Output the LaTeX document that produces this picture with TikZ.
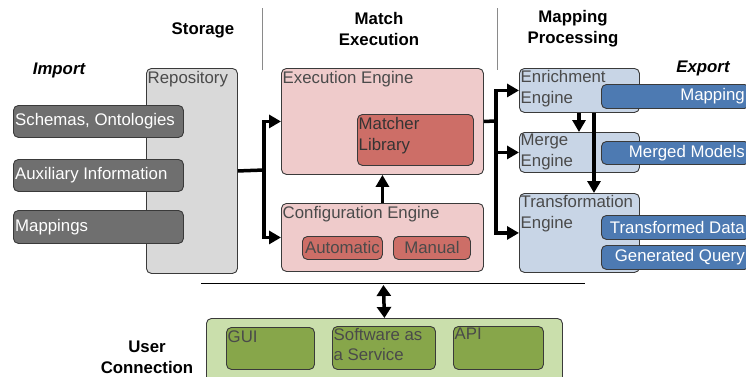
\documentclass[tikz,border=0pt]{standalone}
\usepackage{fontspec}
\setmainfont{Liberation Sans}
\usetikzlibrary{arrows.meta,calc}
\definecolor{bordercol}{HTML}{3A3A3A}
\definecolor{impfill}{HTML}{6F6F6F}
\definecolor{repofill}{HTML}{D9D9D9}
\definecolor{pinkfill}{HTML}{EFCBCB}
\definecolor{redfill}{HTML}{CD6E67}
\definecolor{bluelight}{HTML}{C8D5E6}
\definecolor{bluedark}{HTML}{4D7AB2}
\definecolor{greenlight}{HTML}{CADFAC}
\definecolor{greendark}{HTML}{87A64A}
\definecolor{txtgray}{HTML}{4A4A4A}
\definecolor{sepgray}{HTML}{8A8A8A}
\begin{document}
\begin{tikzpicture}[x=1pt,y=-1pt,
  font=\fontsize{16.8}{21}\selectfont,
  box/.style={draw=bordercol, line width=0.9pt, rounded corners=5pt, anchor=north west, inner sep=0pt},
  tl/.style={anchor=north west, inner xsep=1.5pt, inner ysep=3pt, text=txtgray, align=left},
  lw/.style={anchor=west, inner sep=2pt, text=white},
  rw/.style={anchor=east, inner sep=1pt, xshift=-4pt, text=white},
  ctr/.style={anchor=center, inner sep=0pt, text=txtgray},
  head/.style={font=\fontsize{16.8}{21}\selectfont\bfseries, align=center},
  conn/.style={line width=3.5pt},
  arr/.style={line width=3.5pt, -{Triangle[length=12pt,width=13pt]}},
  darr/.style={line width=3.5pt, {Triangle[length=11pt,width=14pt]}-{Triangle[length=11pt,width=14pt]}},
  sep/.style={draw=sepgray, line width=0.8pt}
]
\useasboundingbox (0,0) rectangle (746,376);

% headers
\node[head] (hstorage) at (203,30) {Storage};
\node[head] (hmatch) at (379,29) {Match\\Execution};
\node[head] (hmap) at (573,29) {Mapping\\Processing};
\node[head, font=\fontsize{16.8}{21}\selectfont\bfseries\itshape] (himport) at (59,70) {Import};
\node[head, font=\fontsize{16.8}{21}\selectfont\bfseries\itshape] (hexport) at (703,68) {Export};
\node[head] (huser) at (147,357) {User\\Connection};

% separators
\coordinate (s1a) at (262,8); \coordinate (s1b) at (262,70);
\coordinate (s2a) at (497,8); \coordinate (s2b) at (497,70);
\draw[sep] (s1a) -- (s1b);
\draw[sep] (s2a) -- (s2b);
\coordinate (hla) at (201,283); \coordinate (hlb) at (585,283);
\draw[line width=0.8pt] (hla) -- (hlb);

% storage
\node[box, fill=repofill, minimum width=91pt, minimum height=205pt,
  label={[tl]north west:Repository}] (repo) at (146,68) {};
\node[box, fill=impfill, minimum width=170pt, minimum height=32pt,
  label={[lw]west:Schemas, Ontologies}] (schemas) at (13,105) {};
\node[box, fill=impfill, minimum width=170pt, minimum height=32pt,
  label={[lw]west:Auxiliary Information}] (aux) at (13,159) {};
\node[box, fill=impfill, minimum width=170pt, minimum height=33pt,
  label={[lw]west:Mappings}] (mappings) at (13,210) {};

% match execution
\node[box, fill=pinkfill, minimum width=202pt, minimum height=106pt,
  label={[tl]north west:Execution Engine}] (exec) at (281,68) {};
\node[box, fill=redfill, minimum width=116pt, minimum height=51pt,
  label={[tl, text=bordercol!90!black]north west:Matcher\\Library}] (matcher) at (357,114) {};
\node[box, fill=pinkfill, minimum width=202pt, minimum height=68pt,
  label={[tl]north west:Configuration Engine}] (config) at (281,203) {};
\node[box, fill=redfill, minimum width=80pt, minimum height=23pt,
  label={[ctr]center:Automatic}] (auto) at (302,236) {};
\node[box, fill=redfill, minimum width=77pt, minimum height=23pt,
  label={[ctr]center:Manual}] (manual) at (393,236) {};

% mapping processing
\node[box, fill=bluelight, minimum width=120pt, minimum height=44pt,
  label={[tl, inner ysep=2pt]north west:Enrichment\\Engine}] (enrich) at (519,68) {};
\node[box, fill=bluelight, minimum width=120pt, minimum height=40pt,
  label={[tl, inner ysep=2pt]north west:Merge\\Engine}] (merge) at (519,132) {};
\node[box, fill=bluelight, minimum width=120pt, minimum height=79pt,
  label={[tl, inner ysep=2pt]north west:Transformation\\Engine}] (trans) at (519,193) {};

% export
\node[box, fill=bluedark, minimum width=148pt, minimum height=24pt,
  label={[rw]east:Mapping}] (expmap) at (601,84) {};
\node[box, fill=bluedark, minimum width=148pt, minimum height=23pt,
  label={[rw]east:Merged Models}] (expmerged) at (601,141) {};
\node[box, fill=bluedark, minimum width=148pt, minimum height=24pt,
  label={[rw]east:Transformed Data}] (exptrans) at (601,215) {};
\node[box, fill=bluedark, minimum width=148pt, minimum height=24pt,
  label={[rw]east:Generated Query}] (expquery) at (601,245) {};

% user connection
\node[box, fill=greenlight, minimum width=356pt, minimum height=64pt] (uc) at (206,318) {};
\node[box, fill=greendark, minimum width=88pt, minimum height=42pt,
  label={[tl, inner ysep=3.5pt]north west:GUI}] (gui) at (226,327) {};
\node[box, fill=greendark, minimum width=103pt, minimum height=43pt,
  label={[tl, inner ysep=2pt, font=\fontsize{16.8}{20}\selectfont]north west:Software as\\a Service}] (saas) at (332,326) {};
\node[box, fill=greendark, minimum width=90pt, minimum height=43pt,
  label={[tl, inner ysep=2pt]north west:API}] (api) at (453,326) {};

% connectors
\coordinate (j1) at (264,170);
\draw[conn] (repo.east) -- (j1);
\draw[arr] (j1) |- (exec.west);
\draw[arr] (j1) |- (config.west);
\draw[arr] (config.north) -- (exec.south);

\coordinate (j2) at (496,121);
\draw[conn] (exec.east) -- (j2);
\draw[arr] (j2) |- (enrich.west);
\draw[arr] (j2) |- (merge.west);
\draw[arr] (j2) |- (trans.west);

\coordinate (e1) at ($(enrich.south west)+(60,0)$);
\coordinate (e2) at ($(enrich.south west)+(75,0)$);
\draw[arr] (e1) -- (e1 |- merge.north);
\draw[arr] (e2) -- (e2 |- trans.north);

\coordinate (dtop) at ($(hla)!0.475!(hlb)$);
\draw[darr] ($(dtop)+(0,2)$) -- (uc.north);
\end{tikzpicture}
\end{document}
